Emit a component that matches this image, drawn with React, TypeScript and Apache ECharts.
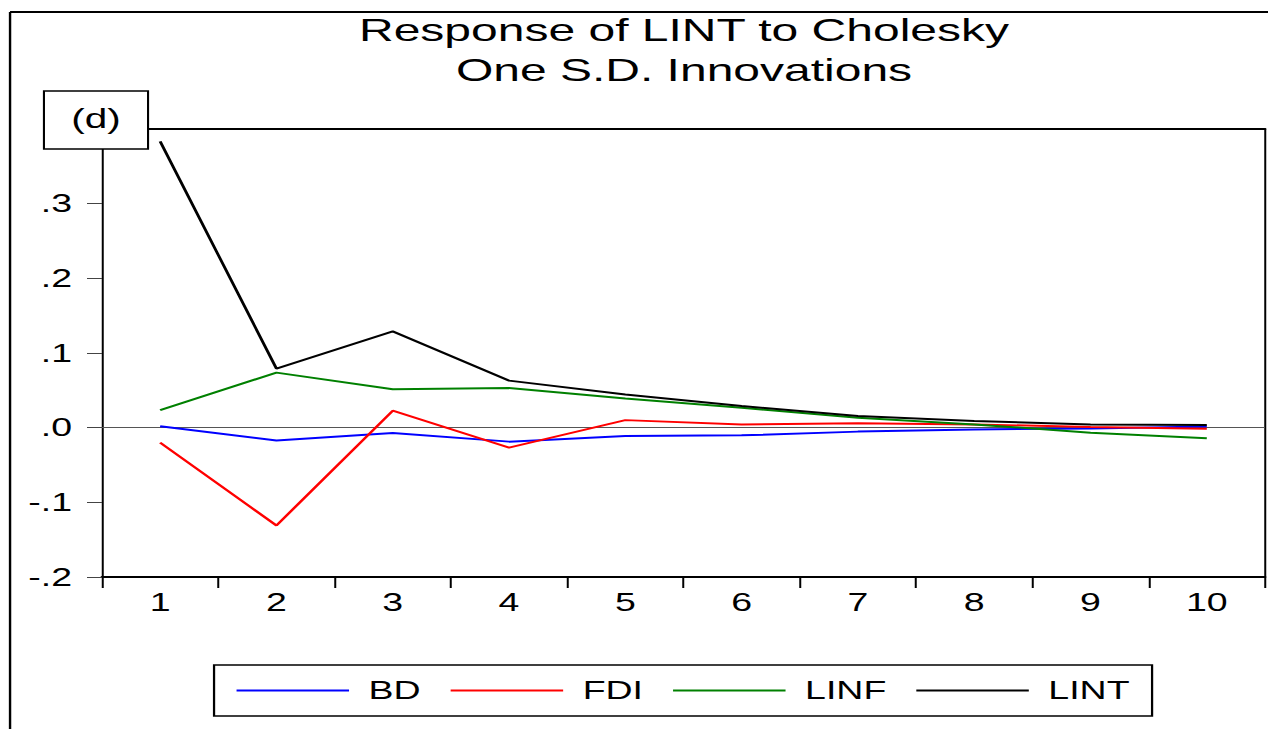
import React, { useEffect, useRef } from "react";
import * as echarts from "echarts";

const periods = ["1", "2", "3", "4", "5", "6", "7", "8", "9", "10"];
const bd = [0.002, -0.0173, -0.0072, -0.0187, -0.0112, -0.0103, -0.0053, -0.0023, -0.001, 0.0017];
const fdi = [-0.02, -0.131, 0.0227, -0.0267, 0.0101, 0.0044, 0.006, 0.0044, 0.0008, -0.0013];
const linf = [0.0235, 0.0737, 0.0515, 0.053, 0.039, 0.0267, 0.0133, 0.0044, -0.0067, -0.0143];
const lint = [0.3835, 0.079, 0.129, 0.063, 0.0444, 0.0289, 0.0155, 0.0089, 0.0044, 0.0035];
const seriesNames = ["BD", "FDI", "LINF", "LINT"];
const seriesColors = ["#0000ff", "#ff0000", "#008000", "#000000"];
const titleLines = ["Response of LINT to Cholesky", "One S.D. Innovations"];
const panelTag = "(d)";

const FONT = '"Liberation Sans", Arial, Helvetica, sans-serif';
const STRETCH = 1.5;
const NATIVE_W = 846;
const VLINE = 2 / STRETCH;

export default function App() {
  const ref = useRef<HTMLDivElement>(null);
  useEffect(() => {
    if (!ref.current) return;
    const chart = echarts.init(ref.current, null, { renderer: "svg" });
    const values = [bd, fdi, linf, lint];
    const fmt = (v: number) => {
      const s = (Math.round(v * 10) / 10).toFixed(1);
      return s.replace(/^(-?)0\./, "$1.");
    };
    chart.setOption({
      animation: false,
      backgroundColor: "#fff",
      grid: {
        left: 68,
        right: NATIVE_W - 843.3,
        top: 129,
        bottom: 152,
        show: false,
      },
      xAxis: [
        {
          type: "category",
          data: periods,
          boundaryGap: true,
          axisLine: { onZero: false, lineStyle: { color: "#000", width: 2 } },
          axisTick: { show: true, length: 11, lineStyle: { color: "#000", width: VLINE } },
          axisLabel: { fontFamily: FONT, fontSize: 25, color: "#000", margin: 13 },
          splitLine: { show: false },
        },
        {
          type: "category",
          data: periods,
          position: "top",
          boundaryGap: true,
          axisLine: { onZero: false, lineStyle: { color: "#000", width: 2 } },
          axisTick: { show: false },
          axisLabel: { show: false },
          splitLine: { show: false },
        },
      ],
      yAxis: [
        {
          type: "value",
          min: -0.2,
          max: 0.4,
          interval: 0.1,
          axisLine: { show: true, onZero: false, lineStyle: { color: "#000", width: VLINE } },
          axisTick: { show: true, length: 10, lineStyle: { color: "#444", width: 1 } },
          axisLabel: { fontFamily: FONT, fontSize: 25, color: "#000", margin: 20, formatter: fmt },
          splitLine: { show: false },
        },
        {
          type: "value",
          position: "right",
          min: -0.2,
          max: 0.4,
          interval: 0.1,
          axisLine: { show: true, onZero: false, lineStyle: { color: "#000", width: VLINE } },
          axisTick: { show: false },
          axisLabel: { show: false },
          splitLine: { show: false },
        },
      ],
      legend: {
        data: seriesNames,
        left: 142.7,
        top: 665,
        orient: "horizontal",
        icon: "rect",
        itemWidth: 75,
        itemHeight: 2,
        itemGap: 20,
        padding: [13, 15],
        borderColor: "#000",
        borderWidth: 1.5,
        itemStyle: { borderWidth: 0 },
        textStyle: { fontFamily: FONT, fontSize: 25, color: "#000", padding: [0, 0, 0, 8] },
      },
      graphic: [
        {
          type: "line",
          z: 100,
          shape: { x1: 6.7, y1: 12, x2: NATIVE_W, y2: 12 },
          style: { stroke: "#000", lineWidth: 2 },
        },
        {
          type: "line",
          z: 100,
          shape: { x1: 6.7, y1: 12, x2: 6.7, y2: 729 },
          style: { stroke: "#000", lineWidth: 1.6 },
        },
        {
          type: "text",
          z: 100,
          x: 456,
          y: 30,
          style: {
            text: titleLines[0],
            font: `32px ${FONT}`,
            fill: "#000",
            align: "center",
            textAlign: "center",
            verticalAlign: "middle",
            textVerticalAlign: "middle",
          },
        },
        {
          type: "text",
          z: 100,
          x: 456,
          y: 70,
          style: {
            text: titleLines[1],
            font: `32px ${FONT}`,
            fill: "#000",
            align: "center",
            textAlign: "center",
            verticalAlign: "middle",
            textVerticalAlign: "middle",
          },
        },
        {
          type: "rect",
          z: 100,
          shape: { x: 29.3, y: 91, width: 69.4, height: 58 },
          style: { fill: "#fff", stroke: "#000", lineWidth: 1.4 },
        },
        {
          type: "text",
          z: 101,
          x: 64,
          y: 119,
          style: {
            text: panelTag,
            font: `27px ${FONT}`,
            fill: "#000",
            align: "center",
            textAlign: "center",
            verticalAlign: "middle",
            textVerticalAlign: "middle",
          },
        },
      ],
      series: seriesNames.map((name, i) => ({
        name,
        type: "line",
        xAxisIndex: 0,
        yAxisIndex: 0,
        data: values[i],
        symbol: "none",
        showSymbol: false,
        lineStyle: { color: seriesColors[i], width: 2 },
        itemStyle: { color: seriesColors[i] },
        z: 2 + i,
        markLine:
          i === 0
            ? {
                silent: true,
                symbol: "none",
                label: { show: false },
                lineStyle: { color: "#555", width: 1, type: "solid" },
                data: [{ yAxis: 0 }],
                z: 1,
              }
            : undefined,
      })),
    });
    return () => chart.dispose();
  }, []);
  return (
    <div
      ref={ref}
      style={{
        position: "fixed",
        left: 0,
        top: 0,
        width: NATIVE_W + "px",
        height: "729px",
        transform: `scaleX(${STRETCH})`,
        transformOrigin: "0 0",
        background: "#fff",
      }}
    />
  );
}
